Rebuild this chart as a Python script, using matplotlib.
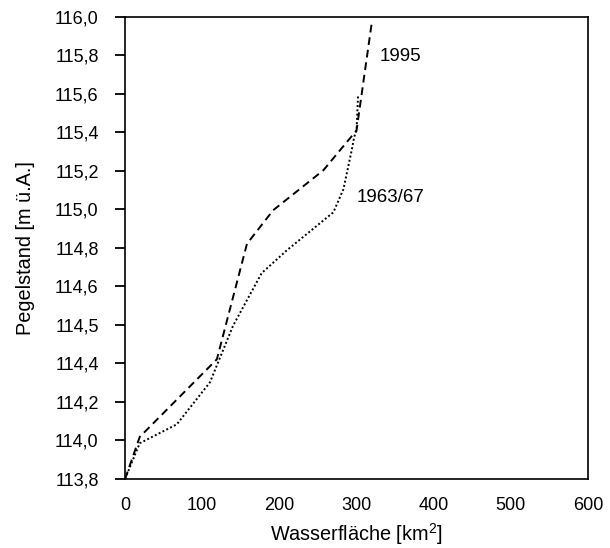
import matplotlib.pyplot as plt
import numpy as np

plt.rcParams['font.family'] = ['Liberation Sans', 'DejaVu Sans']
plt.rcParams['mathtext.fontset'] = 'custom'
plt.rcParams['mathtext.rm'] = 'Liberation Sans'
plt.rcParams['mathtext.default'] = 'regular'

# 1995 (gestrichelt)
x_1995 = [0, 19, 119, 158, 192, 257, 300, 320]
y_1995 = [113.80, 114.00, 114.37, 114.92, 115.08, 115.27, 115.46, 115.98]

# 1963/67 (gepunktet)
x_1963 = [0, 19, 67, 110, 140, 177, 210, 270, 283, 294, 297, 300, 302]
y_1963 = [113.80, 113.97, 114.06, 114.26, 114.53, 114.78, 114.89, 115.07, 115.18, 115.37, 115.43, 115.46, 115.63]

y_ticks = np.linspace(113.8, 116.0, 13)
y_labels = ['113,8', '114,0', '114,2', '114,4', '114,5', '114,6', '114,8',
            '115,0', '115,2', '115,4', '115,6', '115,8', '116,0']
x_ticks = [0, 100, 200, 300, 400, 500, 600]

fig = plt.figure(figsize=(6.1, 5.48), dpi=100)
ax = fig.add_axes([0.205, 0.126, 0.759, 0.843])

ax.plot(x_1995, y_1995, color='k', linestyle=(0, (4, 2.5)), linewidth=1.4)
ax.plot(x_1963, y_1963, color='k', linestyle=(0, (1, 1.2)), linewidth=1.4)

ax.text(330, 115.81, '1995', fontsize=13.5, va='center', ha='left')
ax.text(300, 115.14, '1963/67', fontsize=13.5, va='center', ha='left')

ax.set_xlim(0, 600)
ax.set_ylim(113.8, 116.0)
ax.set_xticks(x_ticks)
ax.set_xticklabels([str(v) for v in x_ticks])
ax.set_yticks(y_ticks)
ax.set_yticklabels(y_labels)
ax.tick_params(axis='x', length=0, pad=13, labelsize=13)
ax.tick_params(axis='y', direction='out', length=7, width=1.3, pad=12, labelsize=13)

for s in ax.spines.values():
    s.set_linewidth(1.2)

ax.set_xlabel('Wasserfläche [km$^{2}$]', fontsize=14.3, labelpad=5)
ax.set_ylabel('Pegelstand [m ü.A.]', fontsize=14.3, labelpad=14)

plt.savefig('out.png', dpi=100)
